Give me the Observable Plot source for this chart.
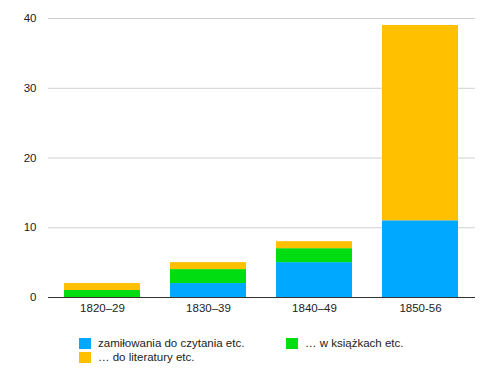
<!DOCTYPE html>
<html>
<head>
<meta charset="utf-8">
<script src="https://cdn.jsdelivr.net/npm/d3@7"></script>
<script src="https://cdn.jsdelivr.net/npm/@observablehq/plot@0.6"></script>
<style>
  body { margin: 0; background: #fff; font-family: "Liberation Sans", Arial, sans-serif; }
  #wrap { position: relative; width: 494px; height: 380px; }
  .leg { position: absolute; font-size: 11.5px; color: #222; display: flex; align-items: center; white-space: nowrap; }
  .sw { width: 12px; height: 11px; margin-right: 7px; }
</style>
</head>
<body>
<div id="wrap"></div>
<script>
const categories = ["1820–29", "1830–39", "1840–49", "1850-56"];
const seriesNames = ["zamiłowania do czytania etc.", "… w książkach etc.", "… do literatury etc."];
const blueValues = [0, 2, 5, 11];
const greenValues = [1, 2, 2, 0];
const yellowValues = [1, 1, 1, 28];
const colors = ["#00a8ff", "#00dd10", "#ffc000"];
const yTicks = [0, 10, 20, 30, 40];

const seriesValues = [blueValues, greenValues, yellowValues];
const data = [];
seriesNames.forEach((s, si) => {
  categories.forEach((c, ci) => data.push({ category: c, series: s, value: seriesValues[si][ci] }));
});

const chart = Plot.plot({
  width: 494,
  height: 320,
  marginTop: 18,
  marginBottom: 23,
  marginLeft: 48,
  marginRight: 19,
  style: { fontFamily: "Liberation Sans, Arial, sans-serif", fontSize: "11.5px", color: "#222" },
  x: { domain: categories, paddingInner: 0.28, paddingOuter: 0.14, label: null, tickSize: 0, tickPadding: 6 },
  y: { domain: [0, 40], ticks: yTicks, label: null, tickSize: 0, tickPadding: 12 },
  color: { domain: seriesNames, range: colors },
  marks: [
    Plot.gridY(yTicks, { stroke: "#d0d0d0", strokeOpacity: 1 }),
    Plot.barY(data, { x: "category", y: "value", fill: "series" }),
    Plot.ruleY([0], { stroke: "#333", strokeWidth: 1.2 }),
    Plot.axisY({ ticks: yTicks, tickSize: 0, tickPadding: 12, label: null }),
    Plot.axisX({ tickSize: 0, tickPadding: 6, label: null })
  ]
});
const wrap = document.getElementById("wrap");
wrap.appendChild(chart);

const legendPos = [[79, 337], [286, 337], [79, 351]];
seriesNames.forEach((s, i) => {
  const d = document.createElement("div");
  d.className = "leg";
  d.style.left = legendPos[i][0] + "px";
  d.style.top = legendPos[i][1] + "px";
  const sw = document.createElement("span");
  sw.className = "sw";
  sw.style.background = colors[i];
  d.appendChild(sw);
  const t = document.createElement("span");
  t.textContent = s;
  d.appendChild(t);
  wrap.appendChild(d);
});
</script>
</body>
</html>
